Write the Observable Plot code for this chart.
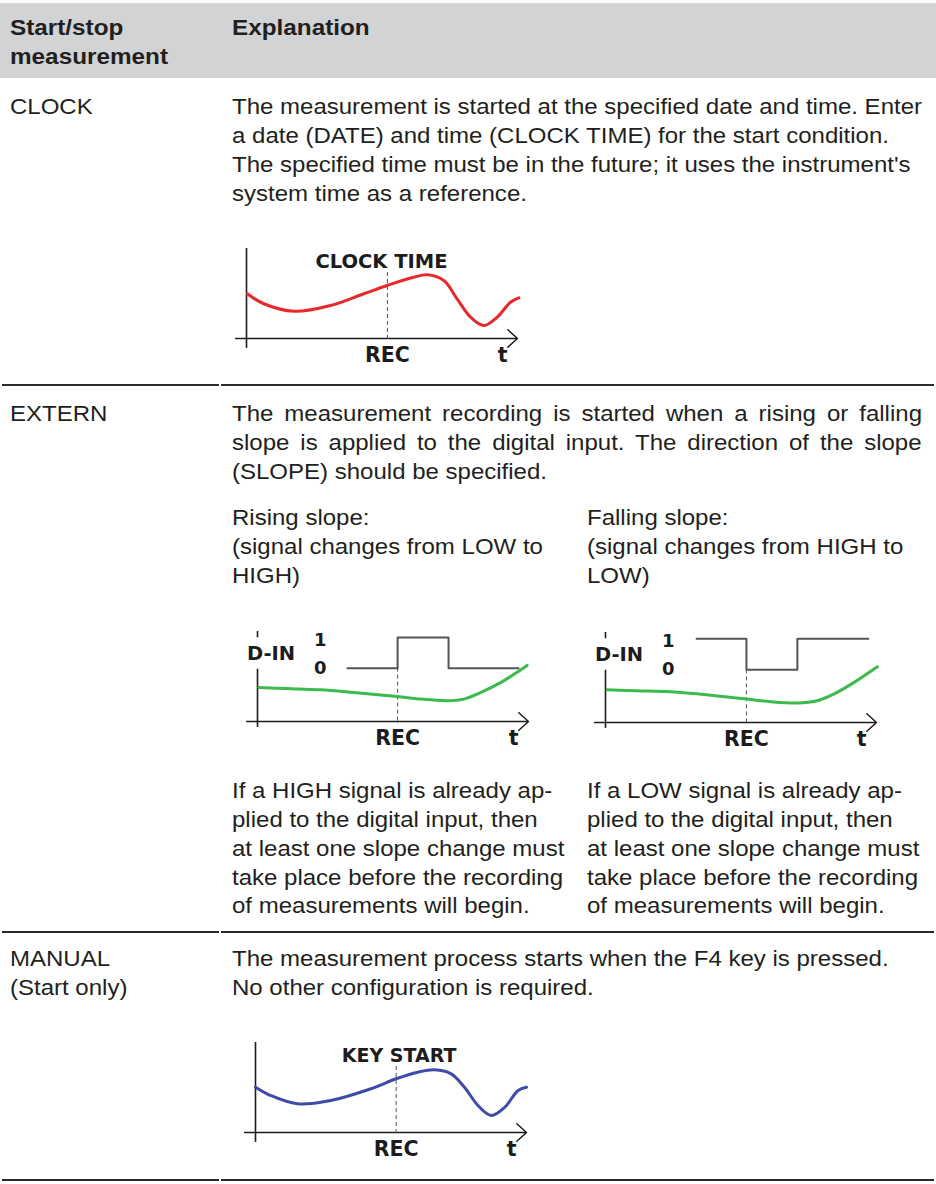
<!DOCTYPE html>
<html><head><meta charset="utf-8">
<script src="https://cdn.jsdelivr.net/npm/d3@7"></script>
<script src="https://cdn.jsdelivr.net/npm/@observablehq/plot@0.6"></script>
<style>
body{margin:0;background:#fff;}
#page{position:relative;width:936px;height:1184px;overflow:hidden;font-family:"Liberation Sans",Arial,sans-serif;color:#231f20;background:#fff;}
.ln{position:absolute;white-space:nowrap;transform-origin:0 0;}
.hdr{position:absolute;left:0;top:3px;width:936px;height:75px;background:#d1d3d4;}
.sep{position:absolute;height:2px;background:#2b2b2b;}
.dg{position:absolute;}
.dg svg{overflow:visible;background:transparent;}
</style></head><body><div id="page"></div>
<script>
// ---------- text content ----------
const headerCol1 = ["Start/stop", "measurement"];
const headerCol2 = ["Explanation"];
const clockName = ["CLOCK"];
const clockText = [
  "The measurement is started at the specified date and time. Enter",
  "a date (DATE) and time (CLOCK TIME) for the start condition.",
  "The specified time must be in the future; it uses the instrument's",
  "system time as a reference."
];
const externName = ["EXTERN"];
const externText = [
  "The measurement recording is started when a rising or falling",
  "slope is applied to the digital input. The direction of the slope",
  "(SLOPE) should be specified."
];
const risingHead = ["Rising slope:", "(signal changes from LOW to", "HIGH)"];
const fallingHead = ["Falling slope:", "(signal changes from HIGH to", "LOW)"];
const risingNote = [
  "If a HIGH signal is already ap-",
  "plied to the digital input, then",
  "at least one slope change must",
  "take place before the recording",
  "of measurements will begin."
];
const fallingNote = [
  "If a LOW signal is already ap-",
  "plied to the digital input, then",
  "at least one slope change must",
  "take place before the recording",
  "of measurements will begin."
];
const manualName = ["MANUAL", "(Start only)"];
const manualText = [
  "The measurement process starts when the F4 key is pressed.",
  "No other configuration is required."
];

// ---------- diagram data (t: time units 0..10, v: signal units 0..10) ----------
const clockCurveT = [0.03,0.64,1.75,3.10,4.33,5.19,6.17,6.67,7.28,7.77,8.27,8.76,9.25,9.74,10.05];
const clockCurveV = [4.97,3.86,3.03,3.67,4.97,5.89,6.81,7.07,6.44,4.41,2.37,1.44,2.37,4.03,4.52];
const manualCurveT = [0.0,0.56,1.54,2.78,4.26,5.19,5.99,6.60,7.22,7.71,8.21,8.70,9.20,9.69,10.0];
const manualCurveV = [5.03,4.11,3.19,3.56,4.86,5.97,6.70,6.97,6.52,5.03,3.00,1.89,2.81,4.67,5.03];
const risingCurveT = [0.05,1.10,2.32,3.55,5.15,6.01,7.00,7.61,8.23,8.97,9.46,9.95];
const risingCurveV = [3.77,3.66,3.52,3.22,2.78,2.49,2.31,2.49,3.22,4.32,5.24,6.23];
const fallingCurveT = [0.06,1.17,2.40,3.87,5.23,6.09,7.07,7.81,8.42,9.16,10.03];
const fallingCurveV = [3.63,3.52,3.41,3.04,2.60,2.31,2.16,2.42,3.15,4.43,6.19];
// digital input (D-IN) step signals: change times and levels (1 / 0)
const risingSignalT = [3.32, 5.17, 7.05, 9.63];
const risingSignalV = [5.93, 9.34, 5.93, 5.93];
const fallingSignalT = [3.36, 5.20, 7.08, 9.70];
const fallingSignalV = [9.30, 5.85, 9.30, 9.30];
// REC time marker
const recTimes = {clock: 5.20, rising: 5.17, falling: 5.20, manual: 5.19};
const eventLabels = {clock: "CLOCK TIME", manual: "KEY START"};
const levelLabels = ["1", "0"];
const axisLabels = ["REC", "t"];
const dinLabel = "D-IN";

// ---------- layout helpers ----------
const page = document.getElementById("page");
const ctx = document.createElement("canvas").getContext("2d");
function measure(text, weight, size) {
  ctx.font = `${weight} ${size}px "Liberation Sans"`;
  return ctx.measureText(text).width;
}
const BODY = 22, HEAD = 22;
const bodyScale = 690 / measure(clockText[0], "normal", BODY);
const headScale = 158 / measure(headerCol1[1], "bold", HEAD);
const STEP = 28.8;

function el(cls, css) {
  const d = document.createElement("div");
  d.className = cls;
  Object.assign(d.style, css);
  page.appendChild(d);
  return d;
}
function addLines(lines, left, capTop, {weight = "normal", size = BODY, scale = bodyScale, justify = 0} = {}) {
  lines.forEach((txt, i) => {
    const d = el("ln", {
      left: left + "px",
      top: (capTop + i * STEP - 0.13 * size) + "px",
      fontSize: size + "px",
      lineHeight: size + "px",
      fontWeight: weight,
      transform: `scaleX(${scale})`
    });
    d.textContent = txt;
    if (i < justify) {
      const spaces = txt.split(" ").length - 1;
      const extra = (690 / scale - measure(txt, weight, size)) / spaces;
      d.style.wordSpacing = extra + "px";
    }
  });
}

// header
el("hdr", {});
addLines(headerCol1, 10, 20, {weight: "bold", size: HEAD, scale: headScale});
addLines(headerCol2, 232, 20, {weight: "bold", size: HEAD, scale: headScale});
// rows
addLines(clockName, 10, 99);
addLines(clockText, 232, 99);
addLines(externName, 10, 406);
addLines(externText, 232, 406, {justify: 2});
addLines(risingHead, 232, 510);
addLines(fallingHead, 587, 510);
addLines(risingNote, 232, 783);
addLines(fallingNote, 587, 783);
addLines(manualName, 10, 951);
addLines(manualText, 232, 951);
// separators
[384, 931, 1179].forEach(y => {
  el("sep", {left: "2px", width: "217px", top: y + "px"});
  el("sep", {left: "221px", width: "713px", top: y + "px"});
});

// ---------- diagrams ----------
const AX = "#1c1c1c";
const zip = (T, V) => T.map((t, i) => ({t, v: V[i]}));

function diagram({left, top, curve, color, rec, recTop, yAxisBottom, event, signal}) {
  const font = {fontFamily: "DejaVu Sans", fontWeight: "bold", fill: AX};
  const marks = [
    Plot.ruleX([0], {y1: yAxisBottom, y2: 10, stroke: AX, strokeWidth: 1.6}),
    Plot.arrow([{a: -0.4, b: 10}], {x1: "a", x2: "b", y1: () => 0, y2: () => 0,
      stroke: AX, strokeWidth: 1.5, headAngle: 84, headLength: 13}),
    Plot.ruleX([rec], {y1: recTop, y2: -0.35, stroke: "#555", strokeWidth: 1, strokeDasharray: "4,3"}),
    Plot.line(curve, {x: "t", y: "v", curve: "catmull-rom", stroke: color, strokeWidth: 3}),
    Plot.text([axisLabels[0]], {x: () => rec, y: () => -2.6, text: d => d, lineAnchor: "bottom", fontSize: 20.5, ...font}),
    Plot.text([axisLabels[1]], {x: () => 9.45, y: () => -2.6, text: d => d, lineAnchor: "bottom", fontSize: 20.5, ...font})
  ];
  if (event) {
    marks.push(Plot.text([event.text], {x: () => event.t, y: () => 7.8, text: d => d, lineAnchor: "bottom", fontSize: event.size, ...font}));
  }
  if (signal) {
    marks.push(
      Plot.line(signal, {x: "t", y: "v", curve: "step-after", stroke: "#555", strokeWidth: 2}),
      Plot.text([dinLabel], {x: () => 0.5, y: () => 7.55, text: d => d, lineAnchor: "middle", fontSize: 19.5,
        stroke: "white", strokeWidth: 18, ...font}),
      Plot.text(levelLabels, {x: () => 2.32, y: (d, i) => i === 0 ? 9.0 : 5.9, text: d => d, lineAnchor: "middle", fontSize: 18, ...font})
    );
  }
  const svg = Plot.plot({
    width: 300, height: 135, margin: 0,
    x: {domain: [0, 10], range: [16, 287], axis: null},
    y: {domain: [0, 10], range: [98, 8], axis: null},
    style: {background: "transparent", overflow: "visible"},
    marks
  });
  const holder = el("dg", {left: left + "px", top: top + "px"});
  holder.appendChild(svg);
}

diagram({left: 230, top: 240, curve: zip(clockCurveT, clockCurveV), color: "#e8292b",
  rec: recTimes.clock, recTop: 7.33, yAxisBottom: -1.1, event: {text: eventLabels.clock, t: 4.98, size: 19.5}});
diagram({left: 241, top: 623, curve: zip(risingCurveT, risingCurveV), color: "#3dba4e",
  rec: recTimes.rising, recTop: 5.93, yAxisBottom: -0.66, signal: zip(risingSignalT, risingSignalV)});
diagram({left: 589, top: 624, curve: zip(fallingCurveT, fallingCurveV), color: "#3dba4e",
  rec: recTimes.falling, recTop: 5.85, yAxisBottom: -0.66, signal: zip(fallingSignalT, fallingSignalV)});
diagram({left: 239, top: 1034, curve: zip(manualCurveT, manualCurveV), color: "#3e4ba8",
  rec: recTimes.manual, recTop: 7.33, yAxisBottom: -1.1, event: {text: eventLabels.manual, t: 5.3, size: 19}});
</script></body></html>
